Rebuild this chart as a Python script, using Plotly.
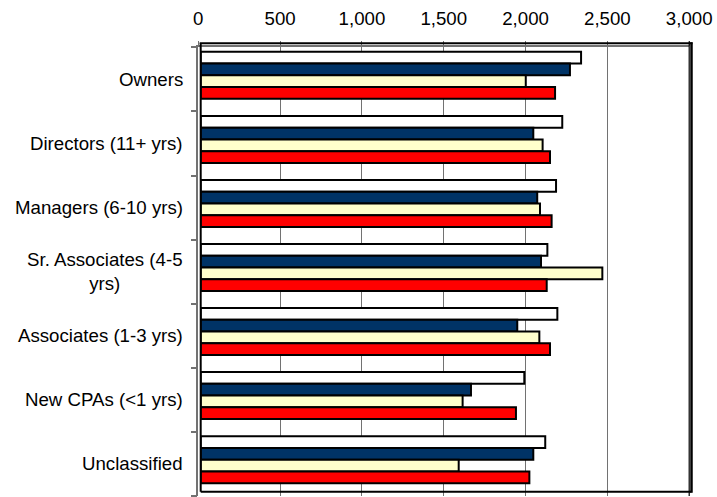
import plotly.graph_objects as go

# ---- data ----
categories = [
    "Owners",
    "Directors (11+ yrs)",
    "Managers (6-10 yrs)",
    "Sr. Associates (4-5<br>yrs)",
    "Associates (1-3 yrs)",
    "New CPAs (<1 yrs)",
    "Unclassified",
]
series_names = ["Series 1", "Series 2", "Series 3", "Series 4"]
series_1 = [2325, 2210, 2172, 2119, 2180, 1978, 2106]
series_2 = [2257, 2033, 2057, 2080, 1935, 1652, 2033]
series_3 = [1987, 2090, 2074, 2455, 2070, 1601, 1577]
series_4 = [2166, 2135, 2145, 2115, 2135, 1927, 2009]
x_ticks = [0, 500, 1000, 1500, 2000, 2500, 3000]

series_values = [series_1, series_2, series_3, series_4]
series_colors = ["#FFFFFF", "#003366", "#FFFFCC", "#FF0000"]

# ---- geometry (pixels) ----
FIG_W, FIG_H = 717, 497
L, R, T, B = 198, 25, 42, 1
W = FIG_W - L - R
H = FIG_H - T - B


def px_x(p):
    return (p - L) / W


def px_y(p):
    return (T + H - p) / H


# front frame (axis, grid, ticks) and the slightly offset back wall holding the bars
FRONT_LEFT, FRONT_RIGHT, FRONT_TOP, FRONT_BOTTOM = 198.3, 689.2, 47.3, 496
WALL_LEFT, WALL_RIGHT, WALL_TOP, WALL_BOTTOM = 200.7, 691.5, 43.3, 491.7

FONT = "Liberation Sans, Arial, sans-serif"
GRID = "#727272"

fig = go.Figure()

# invisible trace so the front subplot is laid out
fig.add_trace(go.Scatter(x=[None], y=[None], xaxis="x", yaxis="y",
                         showlegend=False, hoverinfo="skip"))

for name, vals, col in zip(series_names, series_values, series_colors):
    fig.add_trace(go.Bar(
        name=name, x=vals, y=categories, orientation="h",
        xaxis="x2", yaxis="y2",
        marker=dict(color=col, line=dict(color="#000000", width=2)),
        showlegend=False,
    ))

n = len(categories)

fig.update_layout(
    width=FIG_W, height=FIG_H,
    margin=dict(l=L, r=R, t=T, b=B, pad=0),
    paper_bgcolor="white",
    plot_bgcolor="rgba(0,0,0,0)",
    barmode="group", bargap=0.266, bargroupgap=0,
    font=dict(family=FONT, size=18.67, color="#000000"),
    xaxis=dict(
        domain=[px_x(FRONT_LEFT), px_x(FRONT_RIGHT)],
        anchor="y", side="top", range=[0, 3000],
        tickmode="array", tickvals=x_ticks, tickformat=",",
        ticks="outside", ticklen=5, tickcolor=GRID, tickwidth=1,
        ticklabelstandoff=8,
        showgrid=True, gridcolor=GRID, gridwidth=1, zeroline=False,
        showline=True, linecolor=GRID, linewidth=1.5,
        tickfont=dict(family=FONT, size=18.67, color="#000000"),
    ),
    yaxis=dict(
        domain=[px_y(FRONT_BOTTOM), px_y(FRONT_TOP)],
        anchor="x", range=[n - 0.5, -0.5],
        tickmode="array", tickvals=[i - 0.5 for i in range(n + 1)],
        showticklabels=False,
        ticks="outside", ticklen=6, tickcolor=GRID, tickwidth=1.5,
        showgrid=False, zeroline=False,
        showline=True, linecolor=GRID, linewidth=1.5,
    ),
    xaxis2=dict(
        domain=[px_x(WALL_LEFT), px_x(WALL_RIGHT)],
        anchor="y2", range=[0, 3000], visible=False,
    ),
    yaxis2=dict(
        domain=[px_y(WALL_BOTTOM), px_y(WALL_TOP)],
        anchor="x2", type="category",
        categoryorder="array", categoryarray=categories,
        range=[n - 0.5, -0.5], visible=False,
    ),
)

# category labels centred on the front bands
for i, cat in enumerate(categories):
    fig.add_annotation(
        x=px_x(185), xref="paper", xanchor="right",
        y=i, yref="y", yanchor="middle",
        text=cat, showarrow=False, align="center",
        font=dict(family=FONT, size=18.67, color="#000000"),
    )

# back wall outline and right-hand edges
shapes = [
    dict(x0=WALL_LEFT - 1, x1=WALL_RIGHT + 1, y0=WALL_TOP, y1=WALL_TOP, w=2),
    dict(x0=WALL_LEFT, x1=WALL_LEFT, y0=WALL_TOP, y1=WALL_BOTTOM, w=2),
    dict(x0=WALL_LEFT, x1=WALL_RIGHT, y0=WALL_BOTTOM, y1=WALL_BOTTOM, w=2),
    dict(x0=WALL_RIGHT, x1=WALL_RIGHT, y0=WALL_TOP - 1, y1=WALL_BOTTOM + 1, w=2.5),
    dict(x0=FRONT_RIGHT, x1=FRONT_RIGHT, y0=WALL_TOP - 2, y1=FRONT_BOTTOM, w=1.2),
]
for s in shapes:
    fig.add_shape(
        type="line", xref="paper", yref="paper",
        x0=px_x(s["x0"]), x1=px_x(s["x1"]),
        y0=px_y(s["y0"]), y1=px_y(s["y1"]),
        line=dict(color="#000000", width=s["w"]), layer="above",
    )

fig.write_html("out.html")
